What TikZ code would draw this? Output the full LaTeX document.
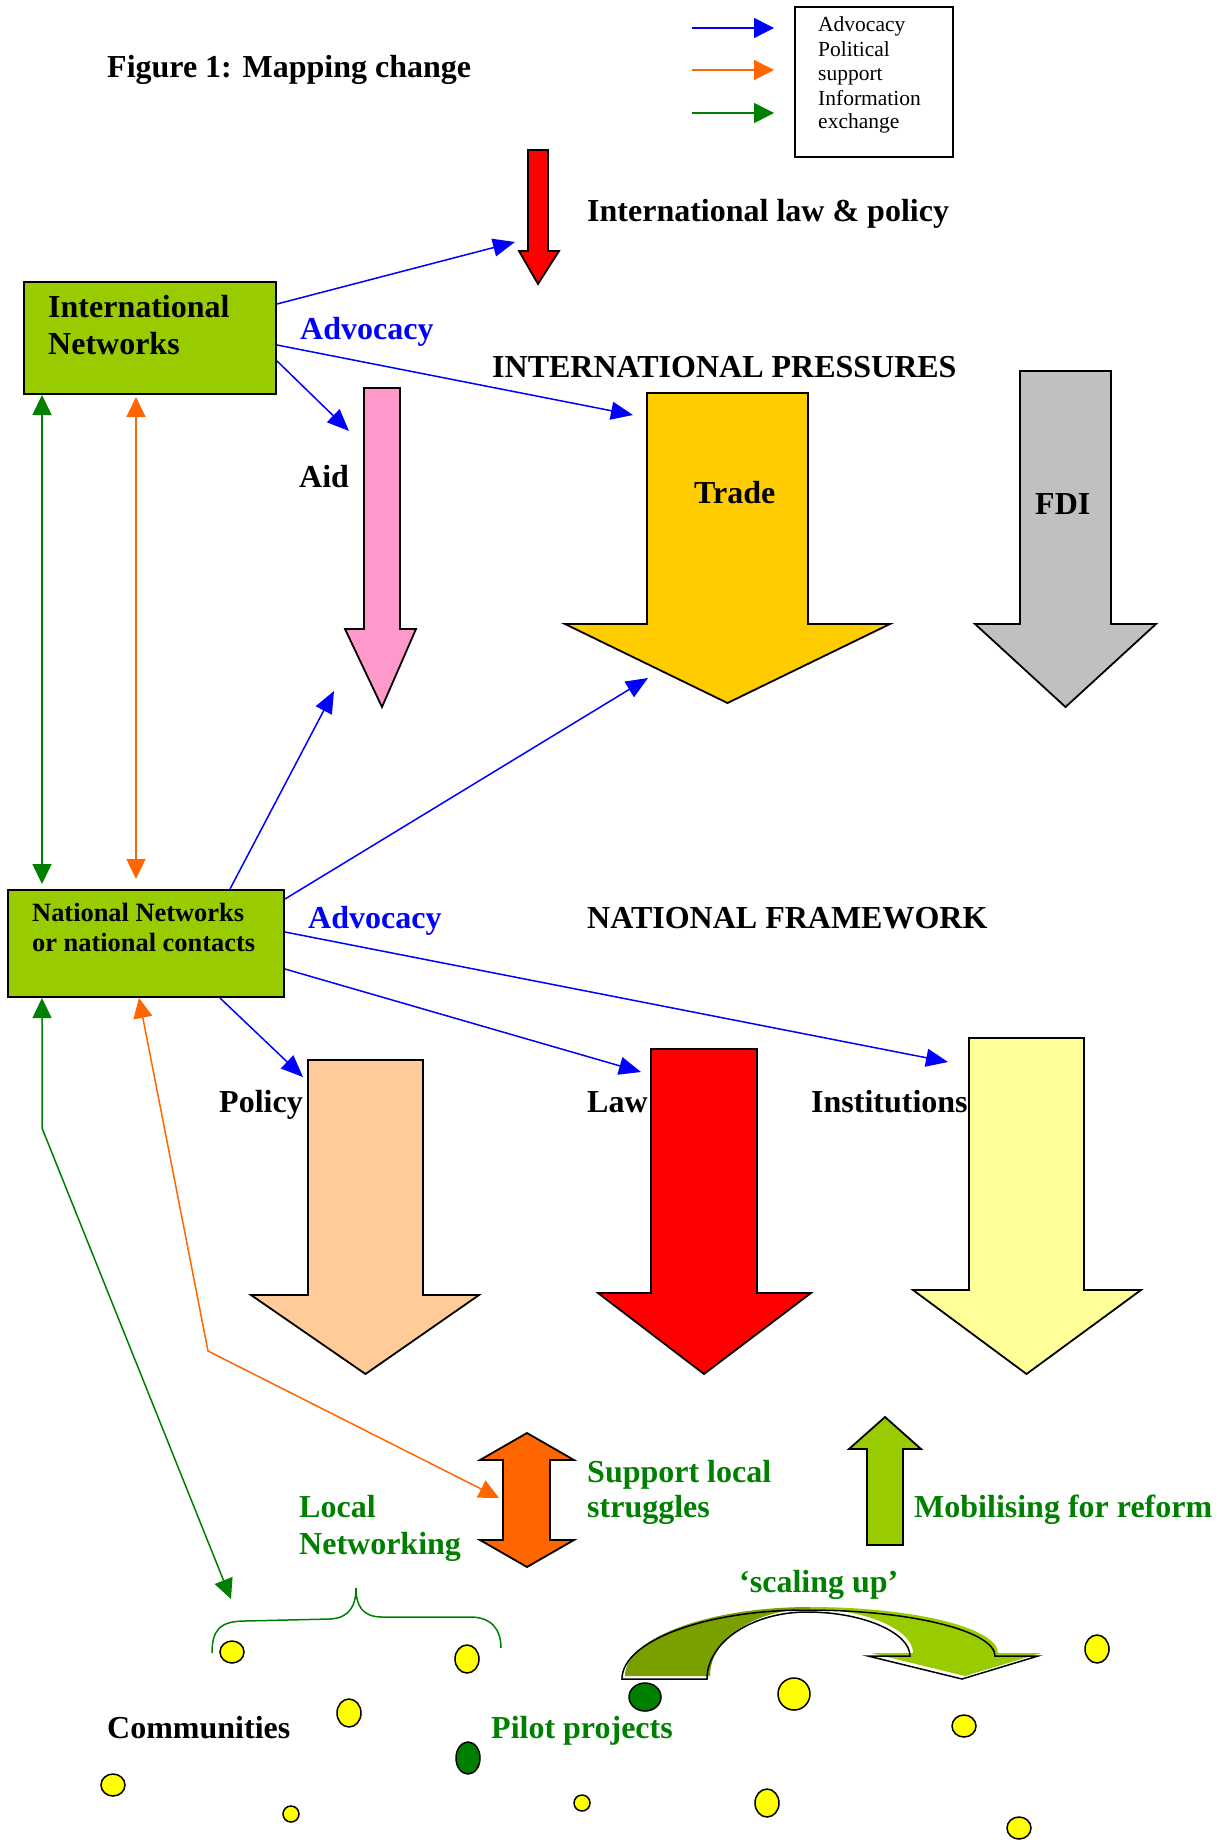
\documentclass[tikz,border=0pt]{standalone}
\usepackage{fontspec}
\setmainfont{Liberation Serif}
\usetikzlibrary{arrows.meta}
\definecolor{boxgreen}{RGB}{153,204,0}
\definecolor{olivegr}{RGB}{122,160,0}
\definecolor{dkgreen}{RGB}{0,128,0}
\definecolor{blueA}{RGB}{0,0,255}
\definecolor{orangeA}{RGB}{255,102,0}
\definecolor{pinkA}{RGB}{255,153,204}
\definecolor{tradeY}{RGB}{255,204,0}
\definecolor{fdiG}{RGB}{192,192,192}
\definecolor{policyP}{RGB}{255,204,153}
\definecolor{instY}{RGB}{255,255,153}
\definecolor{yelC}{RGB}{255,255,0}
\newcommand{\mydownarrow}[8]{%
  \filldraw[blockarrow, fill=#1] (#2,#4) -- (#3,#4) -- (#3,#5) -- (#7,#5) -- ({(#2+#3)/2},#8) -- (#6,#5) -- (#2,#5) -- cycle;}
\begin{document}
\begin{tikzpicture}[x=1pt,y=-1pt,
  big/.style={font=\fontsize{32}{38}\selectfont\bfseries, inner sep=0pt, anchor=base west},
  mid/.style={font=\fontsize{26.4}{31}\selectfont\bfseries, inner sep=0pt, anchor=base west},
  leg/.style={font=\fontsize{21.5}{25}\selectfont, inner sep=0pt, anchor=base west},
  blockarrow/.style={draw=black, line width=1.8pt, line join=miter},
  netbox/.style={draw=black, line width=2pt, fill=boxgreen, inner sep=0pt, anchor=north west},
  adv/.style={draw=blueA, line width=1.5pt, -{Triangle[length=22pt,width=18pt]}},
  gline/.style={draw=dkgreen, line width=1.5pt, {Triangle[length=20pt,width=19pt]}-{Triangle[length=20pt,width=19pt]}},
  oline/.style={draw=orangeA, line width=1.5pt, {Triangle[length=20pt,width=19pt]}-{Triangle[length=20pt,width=19pt]}},
  dot/.style={draw=black, line width=1.5pt, fill=yelC},
  gdot/.style={draw=black, line width=1.5pt, fill=dkgreen},
  scp/.style={insert path={(622,1679) .. controls (622,1641) and (705,1610) .. (807,1610)
     .. controls (911,1610) and (995,1631) .. (995,1656) -- (1038,1656) -- (962,1679) -- (868,1656)
     -- (910,1656) .. controls (910,1633) and (864,1612) .. (807,1612)
     .. controls (752,1612) and (707,1642) .. (707,1679) -- cycle}}
]
\useasboundingbox (0,0) rectangle (1221,1843);
\fill[white] (0,0) rectangle (1221,1843);

% ---------- legend ----------
\node[draw=black, line width=2pt, minimum width=158pt, minimum height=150pt, inner sep=0pt, anchor=north west] (legbox) at (794,6) {};
\node[leg] (l1) at (818,32) {Advocacy};
\node[leg] (l2) at (818,57) {Political};
\node[leg] (l3) at (818,81) {support};
\node[leg] (l4) at (818,106) {Information};
\node[leg] (l5) at (818,129) {exchange};
\coordinate (lb1) at (692,28);  \coordinate (lb2) at (774,28);
\coordinate (lo1) at (692,70);  \coordinate (lo2) at (774,70);
\coordinate (lg1) at (692,113); \coordinate (lg2) at (774,113);
\draw[draw=blueA, line width=1.5pt, -{Triangle[length=20pt,width=20pt]}] (lb1) -- (lb2);
\draw[draw=orangeA, line width=1.5pt, -{Triangle[length=20pt,width=20pt]}] (lo1) -- (lo2);
\draw[draw=dkgreen, line width=1.5pt, -{Triangle[length=20pt,width=20pt]}] (lg1) -- (lg2);

% ---------- title & headings ----------
\node[big] (title) at (107,78) {Figure 1: Mapping change};
\node[big] (intlaw) at (587,222) {International law \& policy};
\node[big] (intpress) at (492,377) {INTERNATIONAL PRESSURES};
\node[big] (natfw) at (587,928) {NATIONAL FRAMEWORK};

% ---------- block arrows (top) ----------
\mydownarrow{red}{528}{548}{150}{251}{519}{559}{284}
\mydownarrow{pinkA}{364}{400}{388}{629}{345}{416}{707}
\mydownarrow{tradeY}{647}{808}{393}{624}{565}{890}{703}
\mydownarrow{fdiG}{1020}{1111}{371}{624}{975}{1156}{707}
\node[big] (aid) at (299,487) {Aid};
\node[big] (trade) at (694,503) {Trade};
\node[big] (fdi) at (1035,514) {FDI};

% ---------- block arrows (national) ----------
\mydownarrow{policyP}{308}{423}{1060}{1295}{251}{479}{1374}
\mydownarrow{red}{651}{757}{1049}{1293}{598}{811}{1374}
\mydownarrow{instY}{969}{1084}{1038}{1290}{913}{1141}{1374}
\node[big] (policy) at (219,1112) {Policy};
\node[big] (law) at (587,1112) {Law};
\node[big] (inst) at (811,1112) {Institutions};

% ---------- network boxes ----------
\node[netbox, minimum width=252pt, minimum height=112pt] (IN) at (23,281) {};
\node[big] (INa) at (48,317) {International};
\node[big] (INb) at (48,354) {Networks};
\node[netbox, minimum width=276pt, minimum height=107pt] (NN) at (7,889) {};
\node[mid] (NNa) at (32,921) {National Networks};
\node[mid] (NNb) at (32,951) {or national contacts};

\node[big, text=blueA] (advI) at (300,339) {Advocacy};
\node[big, text=blueA] (advN) at (308,928) {Advocacy};

% ---------- advocacy connectors ----------
\coordinate (tLaw) at (515,242);
\coordinate (tTrade) at (633,415);
\coordinate (tAid) at (349,431);
\coordinate (tAid2) at (334,691);
\coordinate (tTrade2) at (648,678);
\coordinate (tInst) at (948,1062);
\coordinate (tLaw2) at (641,1072);
\coordinate (tPol) at (303,1077);
\draw[adv] ([yshift=-23pt]IN.north east) -- (tLaw);
\draw[adv] ([yshift=-64pt]IN.north east) -- (tTrade);
\draw[adv] ([yshift=-80pt]IN.north east) -- (tAid);
\draw[adv] ([xshift=223pt]NN.north west) -- (tAid2);
\draw[adv] ([yshift=-10pt]NN.north east) -- (tTrade2);
\draw[adv] ([yshift=-43pt]NN.north east) -- (tInst);
\draw[adv] ([yshift=-80pt]NN.north east) -- (tLaw2);
\draw[adv] ([xshift=213pt]NN.south west) -- (tPol);

% ---------- vertical links ----------
\draw[gline] ([xshift=19pt]IN.south west) -- ([xshift=35pt,yshift=5pt]NN.north west);
\draw[oline] ([xshift=113pt,yshift=-2pt]IN.south west) -- ([xshift=129pt,yshift=10pt]NN.north west);

% ---------- local links ----------
\coordinate (gEnd) at (231,1599);
\coordinate (oEnd) at (499,1498);
\draw[gline] ([xshift=35pt]NN.south west) -- (42,1128) -- (gEnd);
\draw[oline] ([xshift=132pt]NN.south west) -- (208,1351) -- (oEnd);

% ---------- support local struggles ----------
\filldraw[blockarrow, fill=orangeA] (527,1433) -- (574,1460) -- (550,1460) -- (550,1540) -- (574,1540)
  -- (527,1567) -- (480,1540) -- (503,1540) -- (503,1460) -- (480,1460) -- cycle;
\node[big, text=dkgreen] (sls1) at (587,1482) {Support local};
\node[big, text=dkgreen] (sls2) at (587,1517) {struggles};
\node[big, text=dkgreen] (ln1) at (299,1517) {Local};
\node[big, text=dkgreen] (ln2) at (299,1554) {Networking};

% ---------- mobilising ----------
\filldraw[blockarrow, fill=boxgreen] (885,1417) -- (921,1449) -- (903,1449) -- (903,1545) -- (867,1545)
  -- (867,1449) -- (849,1449) -- cycle;
\node[big, text=dkgreen] (mob) at (914,1517) {Mobilising for reform};
\node[big, text=dkgreen] (scal) at (739,1592) {`scaling up'};

% ---------- scaling up curved arrow ----------
\fill[white, scp];
\begin{scope}
  \clip (600,1590) rectangle (810,1700);
  \fill[olivegr, shift={(3,-3)}, scp];
\end{scope}
\begin{scope}
  \clip (810,1590) rectangle (1070,1700);
  \fill[boxgreen, shift={(3,-3)}, scp];
\end{scope}
\draw[black, line width=1.5pt, line join=miter, scp];

% ---------- brace ----------
\draw[dkgreen, line width=1.5pt] (212,1653) .. controls (212,1630) and (220,1621) .. (245,1621) -- (330,1619)
  .. controls (350,1618) and (356,1605) .. (356,1588)
  .. controls (356,1605) and (362,1617) .. (382,1617) -- (470,1617)
  .. controls (492,1617) and (501,1630) .. (501,1648);

% ---------- communities ----------
\node[big] (comm) at (107,1738) {Communities};
\node[big, text=dkgreen] (pilot) at (491,1738) {Pilot projects};

\filldraw[dot] (232,1652) ellipse [x radius=12, y radius=11];
\filldraw[dot] (467,1659) ellipse [x radius=12, y radius=14];
\filldraw[dot] (349,1713) ellipse [x radius=12, y radius=14];
\filldraw[gdot] (468,1758) ellipse [x radius=12, y radius=16];
\filldraw[dot] (113,1785) ellipse [x radius=12, y radius=11];
\filldraw[dot] (291,1814) ellipse [x radius=8, y radius=8];
\filldraw[dot] (582,1803) ellipse [x radius=8, y radius=8];
\filldraw[gdot] (645,1697) ellipse [x radius=16, y radius=14];
\filldraw[dot] (794,1694) ellipse [x radius=16, y radius=16];
\filldraw[dot] (1097,1649) ellipse [x radius=12, y radius=14];
\filldraw[dot] (964,1726) ellipse [x radius=12, y radius=11];
\filldraw[dot] (767,1803) ellipse [x radius=12, y radius=14];
\filldraw[dot] (1019,1828) ellipse [x radius=12, y radius=11];
\end{tikzpicture}
\end{document}
